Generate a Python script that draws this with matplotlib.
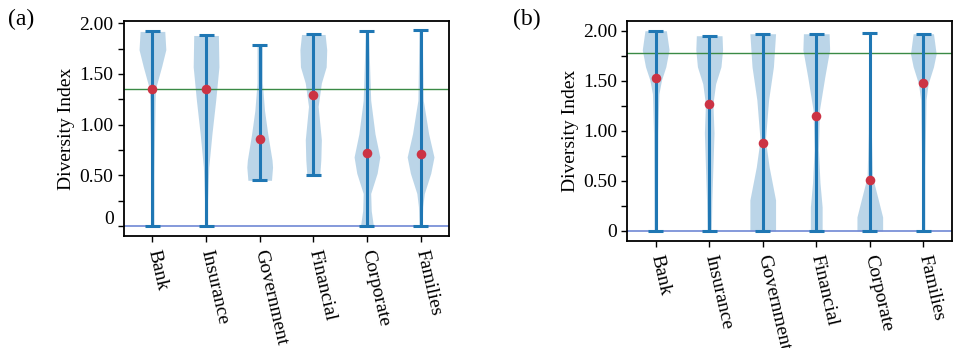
import matplotlib
matplotlib.use("Agg")
import matplotlib.pyplot as plt
import matplotlib.transforms as mtransforms
import numpy as np

plt.rcParams['font.family'] = ['Liberation Serif', 'DejaVu Serif']
plt.rcParams['mathtext.fontset'] = 'stix'

categories = ['Bank', 'Insurance', 'Government', 'Financial', 'Corporate', 'Families']

# panel (a): violin outlines (value, half width)
a_shape_y = [
    [0.0, 0.5, 0.91, 1.24, 1.36, 1.57, 1.74, 1.92],
    [0.0, 0.25, 0.58, 0.91, 1.24, 1.57, 1.88],
    [0.45, 0.58, 0.65, 0.91, 1.14, 1.41, 1.79],
    [0.50, 0.65, 0.85, 1.18, 1.41, 1.57, 1.74, 1.89],
    [0.0, 0.15, 0.32, 0.52, 0.68, 0.91, 1.24, 1.57, 1.92],
    [0.0, 0.19, 0.32, 0.52, 0.68, 0.91, 1.11, 1.24, 1.92],
]
a_shape_w = [
    [0.03, 0.03, 0.04, 0.05, 0.06, 0.17, 0.25, 0.23],
    [0.03, 0.03, 0.05, 0.11, 0.18, 0.24, 0.23],
    [0.22, 0.24, 0.23, 0.15, 0.09, 0.05, 0.05],
    [0.12, 0.14, 0.15, 0.09, 0.15, 0.24, 0.25, 0.22],
    [0.12, 0.08, 0.07, 0.19, 0.24, 0.15, 0.07, 0.05, 0.03],
    [0.03, 0.04, 0.07, 0.19, 0.25, 0.15, 0.09, 0.05, 0.03],
]
a_min = [0.0, 0.0, 0.45, 0.50, 0.0, 0.0]
a_max = [1.92, 1.88, 1.79, 1.89, 1.92, 1.93]
a_mean = [1.35, 1.35, 0.86, 1.29, 0.72, 0.71]
a_ref = 1.35

# panel (b)
b_shape_y = [
    [0.0, 0.98, 1.37, 1.51, 1.64, 1.81, 2.00],
    [0.0, 0.31, 0.98, 1.27, 1.47, 1.64, 1.81, 1.95],
    [0.0, 0.31, 0.64, 0.91, 1.31, 1.64, 1.97],
    [0.0, 0.24, 0.48, 0.81, 1.21, 1.54, 1.81, 1.97],
    [0.0, 0.14, 0.31, 0.54, 0.98, 1.98],
    [0.0, 0.64, 1.31, 1.47, 1.64, 1.77, 1.97],
]
b_shape_w = [
    [0.03, 0.04, 0.06, 0.11, 0.19, 0.25, 0.20],
    [0.04, 0.05, 0.09, 0.07, 0.12, 0.22, 0.25, 0.24],
    [0.24, 0.24, 0.12, 0.05, 0.11, 0.20, 0.24],
    [0.11, 0.11, 0.07, 0.04, 0.06, 0.16, 0.25, 0.24],
    [0.24, 0.24, 0.16, 0.05, 0.03, 0.02],
    [0.03, 0.03, 0.05, 0.09, 0.19, 0.24, 0.19],
]
b_min = [0.0, 0.0, 0.0, 0.0, 0.0, 0.0]
b_max = [2.00, 1.95, 1.97, 1.97, 1.98, 1.97]
b_mean = [1.53, 1.27, 0.88, 1.15, 0.51, 1.48]
b_ref = 1.78

blue = '#1f77b4'


def draw_panel(ax, sy, sw, vmin, vmax, vmean, ref, ylim):
    pos = np.arange(1, len(categories) + 1)
    for p, y, w in zip(pos, sy, sw):
        y = np.asarray(y)
        w = np.asarray(w)
        ax.fill_betweenx(y, p - w, p + w, color=blue, alpha=0.3, lw=0)
    ax.vlines(pos, vmin, vmax, color=blue, lw=2.2)
    ax.hlines(vmax, pos - 0.14, pos + 0.14, color=blue, lw=2.2)
    ax.hlines(vmin, pos - 0.14, pos + 0.14, color=blue, lw=2.2)
    ax.axhline(ref, color='#3a8a45', lw=1.0, zorder=1)
    ax.axhline(0, color='#7088d4', lw=1.2, zorder=1)
    ax.scatter(pos, vmean, s=48, color='#cc3344', zorder=5, lw=0)
    ax.set_xlim(0.47, 6.53)
    ax.set_ylim(*ylim)
    ax.set_xticks(pos)
    ax.set_xticklabels(categories, rotation=-77, ha='left', va='center',
                       rotation_mode='anchor', fontsize=14)
    ax.set_yticks(np.arange(0, 2.01, 0.25))
    ax.set_yticklabels(['0', '', '0.50', '', '1.00', '', '1.50', '', '2.00'],
                       fontsize=14)
    ax.tick_params(direction='out', length=4, width=1)
    ax.tick_params(axis='x', pad=6)
    ax.set_ylabel('Diversity Index', fontsize=14, labelpad=3)
    for s in ax.spines.values():
        s.set_linewidth(1.3)


fig = plt.figure(figsize=(9.78, 3.48), dpi=100)
ax1 = fig.add_axes([0.1268, 0.3218, 0.3323, 0.6179])
ax2 = fig.add_axes([0.6414, 0.3083, 0.3317, 0.6322])

draw_panel(ax1, a_shape_y, a_shape_w, a_min, a_max, a_mean, a_ref, (-0.1, 2.023))
draw_panel(ax2, b_shape_y, b_shape_w, b_min, b_max, b_mean, b_ref, (-0.097, 2.1))

# the "0" label of panel (a) sits a little above its tick
lab0 = ax1.get_yticklabels()[0]
lab0.set_transform(lab0.get_transform() +
                   mtransforms.ScaledTranslation(0, 8 / 100, fig.dpi_scale_trans))

fig.text(0.008, 0.945, '(a)', fontsize=17, va='center')
fig.text(0.525, 0.945, '(b)', fontsize=17, va='center')

fig.savefig('out.png', dpi=100)
